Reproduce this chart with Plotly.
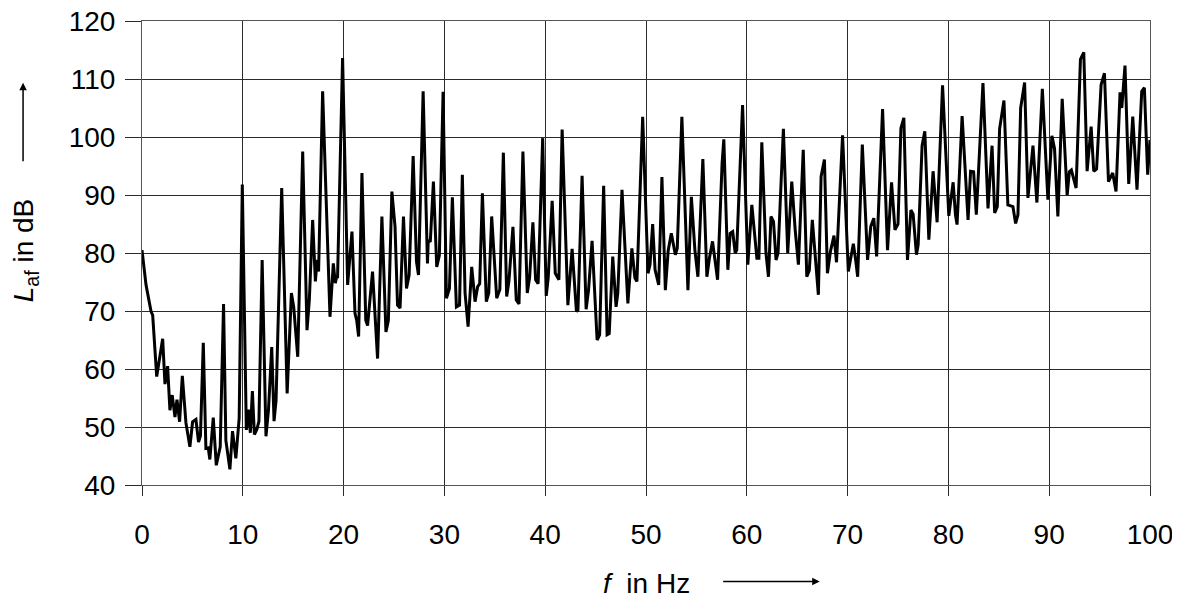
import plotly.graph_objects as go

freq_hz = [
    0.0, 0.4, 0.9, 1.06, 1.46, 2.05, 2.28, 2.54, 2.77, 3.0, 3.27, 3.47, 3.73, 4.0, 4.36, 4.75,
    5.02, 5.35, 5.61, 5.8, 6.08, 6.34, 6.57, 6.73, 7.07, 7.37, 7.76, 8.09, 8.32, 8.72, 8.98, 9.31,
    9.64, 9.95, 10.35, 10.55, 10.75, 10.95, 11.15, 11.4, 11.6, 11.92, 12.3, 12.55, 12.87, 13.1, 13.3,
    13.86, 14.4, 14.82, 15.05, 15.45, 15.94, 16.37, 16.6, 16.93, 17.2, 17.37, 17.52, 17.92, 18.65,
    18.98, 19.18, 19.3, 19.4, 19.9, 20.4, 20.83, 21.13, 21.3, 21.49, 21.82, 22.2, 22.38, 22.87,
    23.37, 23.8, 24.2, 24.44, 24.79, 25.1, 25.35, 25.6, 25.94, 26.24, 26.5, 26.9, 27.23, 27.43,
    27.89, 28.32, 28.4, 28.6, 28.91, 29.24, 29.5, 29.87, 30.2, 30.5, 30.79, 31.19, 31.5, 31.78,
    32.05, 32.35, 32.71, 33.04, 33.3, 33.5, 33.77, 34.16, 34.4, 34.69, 35.19, 35.5, 35.85, 36.18,
    36.4, 36.8, 37.13, 37.4, 37.79, 38.22, 38.45, 38.78, 39.05, 39.3, 39.75, 40.1, 40.3, 40.69,
    41.0, 41.36, 41.68, 42.25, 42.67, 43.1, 43.25, 43.66, 44.06, 44.3, 44.65, 45.15, 45.4, 45.8,
    46.14, 46.35, 46.7, 47.03, 47.2, 47.62, 48.2, 48.6, 48.9, 49.1, 49.67, 50.2, 50.4, 50.66,
    50.9, 51.26, 51.58, 51.92, 52.2, 52.51, 52.91, 53.1, 53.56, 54.16, 54.5, 54.85, 55.15, 55.64,
    56.04, 56.3, 56.6, 57.1, 57.55, 57.72, 58.12, 58.35, 58.6, 58.85, 59.0, 59.58, 60.1, 60.5,
    61.0, 61.2, 61.49, 61.9, 62.15, 62.4, 62.65, 62.9, 63.1, 63.63, 64.06, 64.46, 64.8, 65.12,
    65.6, 65.95, 66.2, 66.5, 66.9, 67.1, 67.37, 67.7, 68.0, 68.3, 68.65, 68.9, 69.5, 70.07, 70.3,
    70.57, 70.8, 71.0, 71.46, 71.98, 72.3, 72.6, 72.88, 73.47, 73.96, 74.36, 74.7, 75.0, 75.29,
    75.58, 75.94, 76.28, 76.5, 76.83, 77.0, 77.39, 77.66, 78.06, 78.48, 78.88, 79.42, 80.04,
    80.47, 80.7, 80.86, 81.36, 81.95, 82.2, 82.5, 82.77, 83.43, 83.93, 84.33, 84.59, 84.85, 85.08,
    85.51, 85.9, 86.4, 86.67, 86.9, 87.17, 87.56, 87.89, 88.39, 88.78, 89.32, 89.87, 90.27, 90.53,
    90.86, 91.29, 91.78, 92.0, 92.2, 92.67, 93.1, 93.43, 93.76, 94.16, 94.42, 94.7, 95.15, 95.48,
    95.88, 96.3, 96.63, 97.03, 97.2, 97.52, 97.89, 98.29, 98.71, 99.18, 99.44, 99.77, 100.0,
]

level_db = [
    80.5, 74.5, 69.9, 69.3, 58.7, 65.2, 57.4, 60.5, 52.9, 55.5, 51.7, 54.7, 50.9, 58.8, 50.7, 46.6,
    50.9, 51.3, 47.4, 48.5, 64.5, 46.3, 46.4, 44.4, 51.6, 43.4, 46.6, 71.2, 47.7, 42.7, 49.3, 44.6,
    51.5, 91.8, 49.5, 53.0, 49.0, 56.2, 48.7, 49.6, 51.0, 78.8, 48.4, 53.0, 63.8, 51.0, 54.6,
    91.2, 55.8, 73.1, 70.7, 62.1, 97.5, 66.7, 71.9, 85.7, 75.1, 78.8, 76.8, 107.9, 69.0,
    78.2, 74.8, 75.9, 75.7, 113.6, 74.5, 83.7, 69.6, 68.4, 65.6, 93.8, 68.4, 67.5, 76.8,
    61.8, 86.3, 66.4, 68.4, 90.6, 84.6, 71.0, 70.5, 86.3, 73.9, 76.2, 96.7, 78.5, 76.2,
    107.9, 78.2, 82.2, 81.9, 92.3, 77.6, 79.6, 107.8, 72.2, 73.9, 89.6, 70.7, 71.0, 93.5,
    73.1, 67.3, 77.6, 71.6, 74.2, 74.7, 90.3, 71.6, 73.1, 86.3, 72.2, 73.7, 97.3, 72.5,
    75.1, 84.5, 71.9, 71.2, 97.5, 73.1, 75.7, 85.3, 75.4, 74.7, 99.8, 72.6, 75.7, 89.0,
    76.5, 75.4, 101.3, 71.0, 80.7, 69.9, 70.2, 93.3, 70.3, 73.6, 82.1, 65.0, 65.9, 91.6,
    65.9, 66.1, 79.4, 70.7, 73.1, 90.9, 71.3, 80.8, 75.7, 75.1, 103.5, 76.5, 78.0, 85.0,
    77.1, 74.5, 93.1, 73.6, 80.4, 83.4, 79.7, 80.8, 103.5, 73.6, 89.7, 80.5, 75.9, 96.2,
    75.9, 79.2, 82.0, 75.4, 95.5, 99.6, 77.1, 83.4, 83.7, 80.0, 80.5, 105.5, 78.0, 88.3,
    79.1, 79.1, 99.1, 80.0, 75.9, 86.3, 85.4, 78.8, 80.0, 101.4, 80.0, 92.3, 84.0, 78.0,
    97.8, 75.9, 77.0, 85.7, 76.5, 72.8, 93.2, 96.1, 76.5, 80.3, 83.0, 78.4, 100.3, 76.8, 79.0,
    81.6, 78.8, 75.9, 98.7, 78.8, 84.6, 86.0, 79.4, 104.8, 80.5, 92.2, 84.0, 85.0, 101.5,
    103.3, 78.8, 87.4, 86.7, 79.7, 81.4, 98.5, 101.0, 82.3, 94.1, 85.3, 108.9, 86.4,
    92.2, 86.6, 84.9, 103.6, 85.7, 94.1, 94.0, 86.6, 109.3, 87.7, 98.5, 86.9, 88.0, 101.4,
    106.3, 88.3, 88.0, 85.1, 86.6, 105.0, 109.4, 89.5, 98.5, 88.7, 108.3, 89.2, 100.2, 98.0,
    86.3, 106.6, 90.0, 94.0, 94.3, 91.2, 113.4, 114.6, 94.1, 101.8, 94.1, 94.5, 109.0, 111.0,
    92.3, 93.8, 90.6, 107.7, 105.0, 112.3, 91.9, 103.5, 90.9, 107.9, 108.5, 93.5, 99.5,
]

x_ticks = [0, 10, 20, 30, 40, 50, 60, 70, 80, 90, 100]
y_ticks = [40, 50, 60, 70, 80, 90, 100, 110, 120]

FONT = "Liberation Sans, Arial, sans-serif"
FS = 28

fig = go.Figure()
fig.add_trace(go.Scatter(
    x=freq_hz, y=level_db, mode="lines",
    line=dict(color="black", width=3),
    showlegend=False, hoverinfo="skip",
))

axis_common = dict(
    showgrid=True, gridcolor="#2b2b2b", gridwidth=1,
    ticks="outside", tickcolor="#2b2b2b",
    showline=True, linecolor="#555555", linewidth=1, mirror=True,
    zeroline=False, tickfont=dict(size=FS, family=FONT),
    ticklabeloverflow="allow", automargin=False,
)

fig.update_layout(
    width=1172, height=591,
    margin=dict(l=134, r=30, t=13, b=114),
    paper_bgcolor="white", plot_bgcolor="white",
    font=dict(family=FONT, size=FS, color="black"),
    xaxis=dict(range=[0, 100], tickvals=x_ticks, ticktext=[str(v) for v in x_ticks],
               ticklen=10, ticklabelstandoff=14, **axis_common),
    yaxis=dict(range=[40, 120], tickvals=y_ticks, ticktext=[str(v) for v in y_ticks],
               ticklen=16, ticklabelstandoff=4, **axis_common),
    annotations=[
        dict(xref="paper", yref="paper", x=-0.116, y=0.506,
             text="<i>L</i><sub>af</sub> in dB", textangle=-90, showarrow=False,
             font=dict(size=FS, family=FONT), xanchor="center", yanchor="middle"),
        dict(xref="paper", yref="paper", x=-0.118, y=0.867, text="",
             showarrow=True, ax=0, ay=80, arrowhead=2, arrowsize=1, arrowwidth=1.5,
             arrowcolor="black"),
        dict(xref="paper", yref="paper", x=0.5007, y=-0.2122,
             text="<i>f</i>  in Hz", showarrow=False,
             font=dict(size=FS, family=FONT), xanchor="center", yanchor="middle"),
        dict(xref="paper", yref="paper", x=0.6723, y=-0.2079, text="",
             showarrow=True, ax=-98, ay=0, arrowhead=2, arrowsize=1, arrowwidth=1.5,
             arrowcolor="black"),
    ],
)

fig.write_html("out.html")
